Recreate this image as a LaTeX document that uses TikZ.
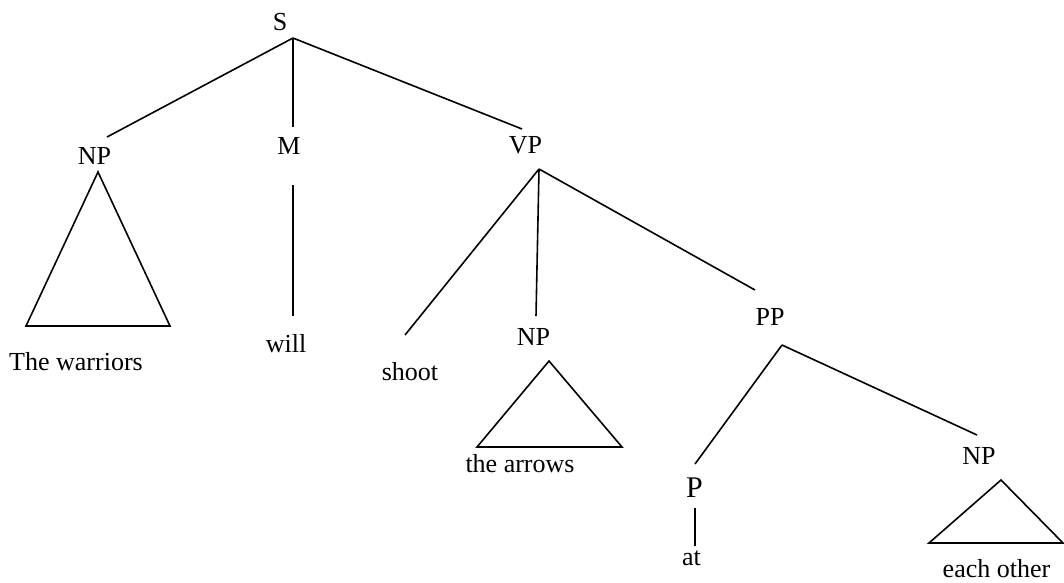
\documentclass[tikz,border=0pt]{standalone}
\usepackage{fontspec}
\setmainfont{Liberation Serif}
\begin{document}
\begin{tikzpicture}[x=1pt,y=-1pt,
  lbl/.style={inner sep=0pt,anchor=base,font=\fontsize{26}{30}\selectfont},
  biglbl/.style={inner sep=0pt,anchor=base,font=\fontsize{30}{34}\selectfont},
  branch/.style={line width=1.6pt,line cap=butt},
  tri/.style={line width=1.6pt,line join=miter}]
\useasboundingbox (0,0) rectangle (1064,582);
% labels
\node[lbl] (S) at (280,30) {S};
\node[lbl] (NP1) at (94.5,164) {NP};
\node[lbl] (M) at (289,154) {M};
\node[lbl] (VP) at (525.5,153) {VP};
\node[lbl] (warriors) at (76,370) {The warriors};
\node[lbl] (will) at (286,352) {will};
\node[lbl] (shoot) at (410,380) {shoot};
\node[lbl] (NP2) at (533.5,345) {NP};
\node[lbl] (arrows) at (520,472) {the arrows};
\node[lbl] (PP) at (770,325) {PP};
\node[biglbl] (P) at (694.5,497) {P};
\node[lbl] (at) at (691.5,565) {at};
\node[lbl] (NP3) at (979,464) {NP};
\node[lbl] (eachother) at (996.5,577) {each other};
% branch points
\coordinate (Sb) at (293,38);
\coordinate (NP1t) at (107,137);
\coordinate (Mt) at (293,127);
\coordinate (VPt) at (522,129);
\coordinate (Mb) at (293,185);
\coordinate (willt) at (293,316);
\coordinate (VPb) at (539,169);
\coordinate (shoott) at (405,335);
\coordinate (NP2t) at (536,316);
\coordinate (PPt) at (755,290);
\coordinate (PPb) at (782,345);
\coordinate (Pt) at (695,464);
\coordinate (NP3t) at (977,435);
\coordinate (Pb) at (695,508);
\coordinate (att) at (695,546);
% triangle corners
\coordinate (T1a) at (98,172);
\coordinate (T1l) at (26,326);
\coordinate (T1r) at (170,326);
\coordinate (T2a) at (549,361);
\coordinate (T2l) at (477,447);
\coordinate (T2r) at (622,447);
\coordinate (T3a) at (1001,480);
\coordinate (T3l) at (929,543);
\coordinate (T3r) at (1063,543);
% connectors
\draw[branch] (Sb) -- (NP1t);
\draw[branch] (Sb) -- (Mt);
\draw[branch] (Sb) -- (VPt);
\draw[branch] (Mb) -- (willt);
\draw[branch] (VPb) -- (shoott);
\draw[branch] (VPb) -- (NP2t);
\draw[branch] (VPb) -- (PPt);
\draw[branch] (PPb) -- (Pt);
\draw[branch] (PPb) -- (NP3t);
\draw[branch] (Pb) -- (att);
% triangles
\draw[tri] (T1a) -- (T1l) -- (T1r) -- cycle;
\draw[tri] (T2a) -- (T2l) -- (T2r) -- cycle;
\draw[tri] (T3a) -- (T3l) -- (T3r) -- cycle;
\end{tikzpicture}
\end{document}
